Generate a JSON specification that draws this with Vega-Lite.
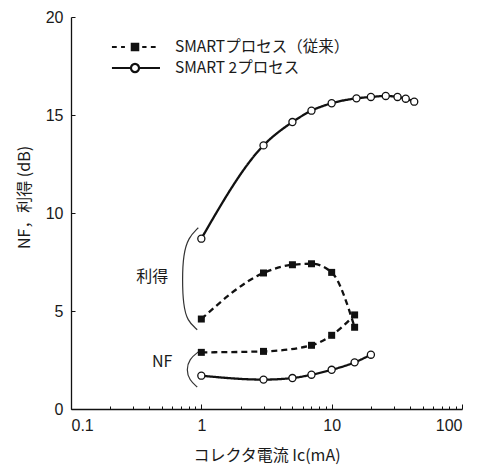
{
  "$schema": "https://vega.github.io/schema/vega-lite/v6.json",
  "width": 391,
  "height": 392,
  "autosize": {"type": "none"},
  "padding": {"left": 71, "top": 17, "right": 19, "bottom": 57},
  "background": "white",
  "config": {
    "view": {"stroke": null},
    "font": "Noto Sans CJK JP",
    "axis": {"grid": false, "domainColor": "#111", "domainWidth": 1.3, "tickColor": "#111", "tickWidth": 1, "labelColor": "#1a1a1a", "titleColor": "#1a1a1a"}
  },
  "datasets": {
    "curves": [
      {"series": "SMARTプロセス（従来）", "curve": "gainA", "I": 1, "dB": 4.59},
      {"series": "SMARTプロセス（従来）", "curve": "gainA", "I": 3, "dB": 6.94},
      {"series": "SMARTプロセス（従来）", "curve": "gainA", "I": 5, "dB": 7.36},
      {"series": "SMARTプロセス（従来）", "curve": "gainA", "I": 7, "dB": 7.41},
      {"series": "SMARTプロセス（従来）", "curve": "gainA", "I": 10, "dB": 6.97},
      {"series": "SMARTプロセス（従来）", "curve": "gainA", "I": 15, "dB": 4.17},
      {"series": "SMARTプロセス（従来）", "curve": "nfA", "I": 1, "dB": 2.89},
      {"series": "SMARTプロセス（従来）", "curve": "nfA", "I": 3, "dB": 2.94},
      {"series": "SMARTプロセス（従来）", "curve": "nfA", "I": 7, "dB": 3.25},
      {"series": "SMARTプロセス（従来）", "curve": "nfA", "I": 10, "dB": 3.76},
      {"series": "SMARTプロセス（従来）", "curve": "nfA", "I": 15, "dB": 4.8},
      {"series": "SMART 2プロセス", "curve": "gainB", "I": 1, "dB": 8.69},
      {"series": "SMART 2プロセス", "curve": "gainB", "I": 3, "dB": 13.45},
      {"series": "SMART 2プロセス", "curve": "gainB", "I": 5, "dB": 14.64},
      {"series": "SMART 2プロセス", "curve": "gainB", "I": 7, "dB": 15.22},
      {"series": "SMART 2プロセス", "curve": "gainB", "I": 10, "dB": 15.6},
      {"series": "SMART 2プロセス", "curve": "gainB", "I": 15.5, "dB": 15.85},
      {"series": "SMART 2プロセス", "curve": "gainB", "I": 20, "dB": 15.92},
      {"series": "SMART 2プロセス", "curve": "gainB", "I": 26, "dB": 15.97},
      {"series": "SMART 2プロセス", "curve": "gainB", "I": 32, "dB": 15.92},
      {"series": "SMART 2プロセス", "curve": "gainB", "I": 37, "dB": 15.83},
      {"series": "SMART 2プロセス", "curve": "gainB", "I": 43, "dB": 15.68},
      {"series": "SMART 2プロセス", "curve": "nfB", "I": 1, "dB": 1.7},
      {"series": "SMART 2プロセス", "curve": "nfB", "I": 3, "dB": 1.5},
      {"series": "SMART 2プロセス", "curve": "nfB", "I": 5, "dB": 1.58},
      {"series": "SMART 2プロセス", "curve": "nfB", "I": 7, "dB": 1.75},
      {"series": "SMART 2プロセス", "curve": "nfB", "I": 10, "dB": 2.0},
      {"series": "SMART 2プロセス", "curve": "nfB", "I": 15, "dB": 2.38},
      {"series": "SMART 2プロセス", "curve": "nfB", "I": 20, "dB": 2.77}
    ],
    "brackets": [
      {"b": "gain", "k": 1, "I": 0.948, "dB": 9.25},
      {"b": "gain", "k": 2, "I": 0.794, "dB": 8.74},
      {"b": "gain", "k": 3, "I": 0.727, "dB": 7.87},
      {"b": "gain", "k": 4, "I": 0.714, "dB": 6.6},
      {"b": "gain", "k": 5, "I": 0.727, "dB": 5.32},
      {"b": "gain", "k": 6, "I": 0.78, "dB": 4.5},
      {"b": "gain", "k": 7, "I": 0.93, "dB": 4.04},
      {"b": "nf", "k": 1, "I": 0.948, "dB": 2.91},
      {"b": "nf", "k": 2, "I": 0.809, "dB": 2.56},
      {"b": "nf", "k": 3, "I": 0.767, "dB": 1.99},
      {"b": "nf", "k": 4, "I": 0.809, "dB": 1.48},
      {"b": "nf", "k": 5, "I": 0.93, "dB": 1.12}
    ],
    "notes": [
      {"label": "利得", "I": 0.42, "dB": 6.75},
      {"label": "NF", "I": 0.5, "dB": 2.4}
    ],
    "legendRows": [
      {"series": "SMARTプロセス（従来）", "I": 1, "dB": 10},
      {"series": "SMART 2プロセス", "I": 1, "dB": 10}
    ]
  },
  "encoding": {
    "y": {"field": "dB", "type": "quantitative", "scale": {"domain": [0, 20], "nice": false, "zero": false},
      "axis": {"values": [0, 5, 10, 15, 20], "tickSize": -4, "labelPadding": 12, "labelFont": "Liberation Sans", "labelFontSize": 16,
        "title": "NF，利得 (dB)", "titleFont": "Noto Sans CJK JP", "titleFontSize": 16, "titleFontWeight": "normal", "titleX": -47, "titleY": 180, "titleAlign": "center", "titleBaseline": "middle"}}
  },
  "layer": [
    {
      "data": {"name": "curves"},
      "mark": {"type": "line", "interpolate": "monotone", "strokeWidth": 2.3, "color": "#111"},
      "encoding": {
        "x": {"field": "I", "type": "quantitative", "scale": {"type": "log", "domain": [0.1, 100], "nice": false},
          "axis": {"values": [0.1, 1, 10, 100], "format": "~g", "tickSize": -5, "labelPadding": 13, "labelFont": "Liberation Sans", "labelFontSize": 16,
            "title": "コレクタ電流 Ic(mA)", "titleFont": "Noto Sans CJK JP", "titleFontSize": 16, "titleFontWeight": "normal", "titlePadding": 14}},
        "strokeDash": {"field": "curve", "type": "nominal", "scale": {"domain": ["gainA", "nfA", "gainB", "nfB"], "range": [[6, 4], [6, 4], [1, 0], [1, 0]]}, "legend": null}
      }
    },
    {
      "data": {"name": "brackets"},
      "mark": {"type": "line", "interpolate": "basis", "strokeWidth": 1.2, "color": "#333"},
      "encoding": {
        "x": {"field": "I", "type": "quantitative", "scale": {"type": "log", "domain": [0.1, 100], "nice": false}, "axis": null},
        "detail": {"field": "b"},
        "order": {"field": "k"}
      }
    },
    {
      "data": {"name": "curves"},
      "transform": [{"filter": "datum.series === 'SMARTプロセス（従来）'"}],
      "mark": {"type": "point", "shape": "square", "filled": true, "size": 49, "color": "#111", "opacity": 1},
      "encoding": {
        "x": {"field": "I", "type": "quantitative", "scale": {"type": "log", "domain": [0.1, 100], "nice": false}, "axis": null}
      }
    },
    {
      "data": {"name": "curves"},
      "transform": [{"filter": "datum.series === 'SMART 2プロセス'"}],
      "mark": {"type": "point", "shape": "circle", "filled": false, "fill": "white", "stroke": "#111", "strokeWidth": 1.3, "size": 50, "opacity": 1},
      "encoding": {
        "x": {"field": "I", "type": "quantitative", "scale": {"type": "log", "domain": [0.1, 100], "nice": false}, "axis": null}
      }
    },
    {
      "data": {"name": "notes"},
      "mark": {"type": "text", "fontSize": 16, "color": "#1a1a1a", "font": "Noto Sans CJK JP"},
      "encoding": {
        "x": {"field": "I", "type": "quantitative", "scale": {"type": "log", "domain": [0.1, 100], "nice": false}, "axis": null},
        "text": {"field": "label"}
      }
    },
    {
      "data": {"name": "legendRows"},
      "mark": {"type": "point", "filled": true, "size": 0, "stroke": "#111", "strokeWidth": 2.2},
      "encoding": {
        "x": {"field": "I", "type": "quantitative", "scale": {"type": "log", "domain": [0.1, 100], "nice": false},
          "axis": {"orient": "bottom", "values": [0.2, 0.3, 0.4, 0.5, 0.6, 0.7, 0.8, 0.9, 2, 3, 4, 5, 6, 7, 8, 9, 20, 30, 40, 50, 60, 70, 80, 90], "labels": false, "domain": false, "tickSize": -3, "title": null}},
        "shape": {"field": "series", "type": "nominal",
          "scale": {"domain": ["SMARTプロセス（従来）", "SMART 2プロセス"],
            "range": ["M-2.4,0H-1.9M-1.45,0H-1.05M-0.33,-0.33H0.33V0.33H-0.33ZM0.75,0H1.2M1.65,0H2.15", "M-2.4,0H-0.42M0.42,0H2.6M0.42,0A0.42,0.42 0 1 1 -0.42,0A0.42,0.42 0 1 1 0.42,0"]},
          "legend": {"orient": "none", "legendX": 53, "legendY": 19, "title": null, "symbolSize": 369, "symbolOpacity": 1, "symbolStrokeColor": "#111", "symbolStrokeWidth": 2.2, "labelFont": "Noto Sans CJK JP", "labelFontSize": 15.5, "labelColor": "#1a1a1a", "labelOffset": 29, "labelLimit": 400, "rowPadding": 1, "padding": 0,
            "encoding": {"symbols": {"stroke": {"value": "#111"}, "strokeWidth": {"value": 2.2}, "strokeOpacity": {"value": 1}}}}},
        "fill": {"field": "series", "type": "nominal",
          "scale": {"domain": ["SMARTプロセス（従来）", "SMART 2プロセス"], "range": ["#111", "white"]},
          "legend": {"orient": "none", "legendX": 53, "legendY": 19, "title": null, "symbolSize": 369, "symbolOpacity": 1, "symbolStrokeColor": "#111", "symbolStrokeWidth": 2.2, "labelFont": "Noto Sans CJK JP", "labelFontSize": 15.5, "labelColor": "#1a1a1a", "labelOffset": 29, "labelLimit": 400, "rowPadding": 1, "padding": 0,
            "encoding": {"symbols": {"stroke": {"value": "#111"}, "strokeWidth": {"value": 2.2}, "strokeOpacity": {"value": 1}}}}}
      }
    }
  ],
  "resolve": {"axis": {"x": "independent"}}
}
